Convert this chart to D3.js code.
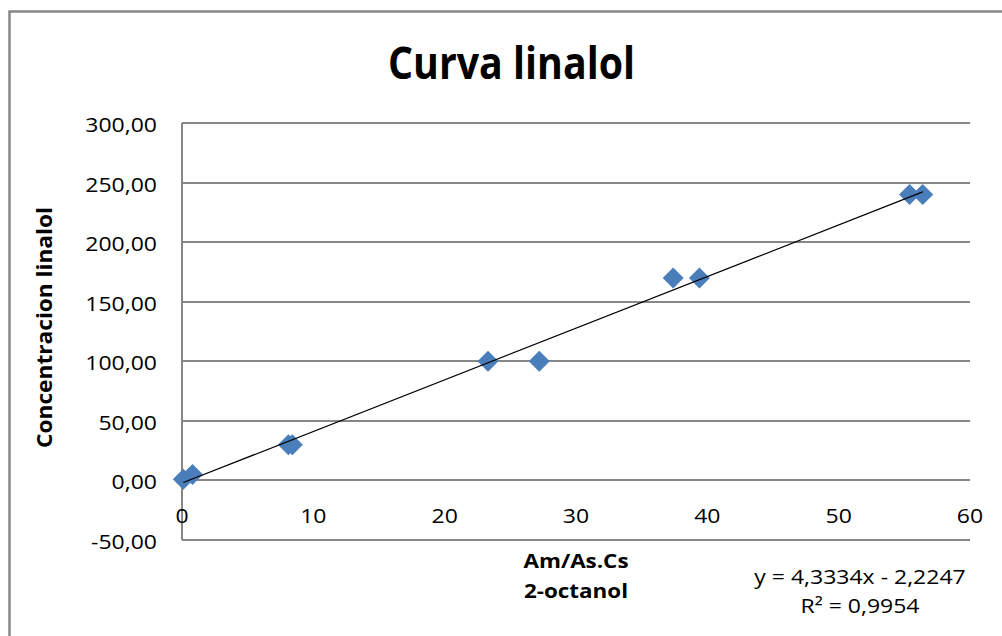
<!DOCTYPE html>
<html>
<head>
<meta charset="utf-8">
<script src="https://cdn.jsdelivr.net/npm/d3@7"></script>
<style>
  html, body { margin: 0; padding: 0; background: #ffffff; }
  svg { display: block; }
  text { font-family: "Open Sans", "Liberation Sans", sans-serif; fill: #000; }
</style>
</head>
<body>
<svg id="chart" width="1002" height="636"></svg>
<script>
// Calibration points: Am/As.Cs ratio vs linalool concentration
const ratioValues = [0.1, 0.8, 8.1, 8.4, 23.3, 27.2, 37.4, 39.4, 55.4, 56.4];
const concentrationValues = [1, 5, 30, 30, 100, 100, 170, 170, 240, 240];

// Linear fit reported on the chart
const fitSlope = 4.3334;
const fitIntercept = -2.2247;
const fitR2 = 0.9954;

// Axis ticks
const xTicks = [0, 10, 20, 30, 40, 50, 60];
const yTicks = [-50, 0, 50, 100, 150, 200, 250, 300];

const titleText = "Curva linalol";
const xTitleLines = ["Am/As.Cs", "2-octanol"];
const yTitleText = "Concentracion linalol";

const svg = d3.select("#chart");
const W = 1002, H = 636;

const plot = { left: 182, right: 970, top: 123, bottom: 540 };

const x = d3.scaleLinear().domain([0, 60]).range([plot.left, plot.right]);
const y = d3.scaleLinear().domain([-50, 300]).range([plot.bottom, plot.top]);

const esLocale = d3.formatLocale({ decimal: ",", thousands: ".", grouping: [3], currency: ["", ""], minus: "-" });
const fmt2 = esLocale.format(".2f");
const fmt4 = esLocale.format(".4f");

const gridColor = "#878787";

// Outer chart frame (runs past the right and bottom edges)
svg.append("rect")
  .attr("x", 9.5).attr("y", 11.5)
  .attr("width", W + 20).attr("height", H + 20)
  .attr("fill", "none")
  .attr("stroke", "#878787")
  .attr("stroke-width", 2.5);

// Helper: text drawn with a horizontal stretch factor
function stretchedText(parent, tx, ty, str, opts) {
  const g = parent.append("g")
    .attr("transform", `translate(${tx},${ty})${opts.rotate ? ` rotate(${opts.rotate})` : ""} scale(${opts.sx || 1},1)`);
  const t = g.append("text")
    .attr("x", 0).attr("y", 0)
    .attr("text-anchor", opts.anchor || "middle")
    .attr("font-size", opts.size)
    .attr("font-weight", opts.weight || "normal")
    .text(str);
  if (opts.length) {
    t.attr("textLength", opts.length).attr("lengthAdjust", "spacingAndGlyphs");
  }
  return t;
}

// Horizontal gridlines
svg.append("g")
  .selectAll("line")
  .data(yTicks)
  .join("line")
  .attr("x1", plot.left).attr("x2", plot.right)
  .attr("y1", d => Math.round(y(d))).attr("y2", d => Math.round(y(d)))
  .attr("stroke", gridColor)
  .attr("stroke-width", 2);

// Vertical axis line
svg.append("line")
  .attr("x1", plot.left).attr("x2", plot.left)
  .attr("y1", plot.top).attr("y2", plot.bottom)
  .attr("stroke", gridColor).attr("stroke-width", 2);

// Y tick labels
const yLab = svg.append("g");
yTicks.forEach(v => {
  stretchedText(yLab, plot.left - 25, Math.round(y(v)) + 8.5, fmt2(v), { size: 20, sx: 1.15, anchor: "end" });
});

// X tick labels
const xLab = svg.append("g");
xTicks.forEach(v => {
  stretchedText(xLab, x(v), 523, String(v), { size: 20, sx: 1.15, anchor: "middle" });
});

// Title
stretchedText(svg, (388 + 635) / 2, 79, titleText, { size: 45, weight: "bold", length: 247 });

// Axis titles
const xMid = (plot.left + plot.right) / 2;
stretchedText(svg, xMid, 568, xTitleLines[0], { size: 20, weight: "bold", sx: 1.12 });
stretchedText(svg, xMid, 598, xTitleLines[1], { size: 20, weight: "bold", sx: 1.12 });
stretchedText(svg, 52, (plot.top + plot.bottom) / 2 - 4, yTitleText, { size: 21, weight: "bold", sx: 1.08, rotate: -90 });

// Data markers (diamonds)
const half = 10.5;
const diamond = `M0,${-half}L${half},0L0,${half}L${-half},0Z`;
svg.append("g")
  .selectAll("path")
  .data(ratioValues.map((r, i) => [r, concentrationValues[i]]))
  .join("path")
  .attr("d", diamond)
  .attr("transform", d => `translate(${x(d[0])},${y(d[1])})`)
  .attr("fill", "#4a7ebb");

// Linear trendline across the data range
const xMin = d3.min(ratioValues), xMax = d3.max(ratioValues);
svg.append("line")
  .attr("x1", x(xMin)).attr("y1", y(fitSlope * xMin + fitIntercept))
  .attr("x2", x(xMax)).attr("y2", y(fitSlope * xMax + fitIntercept))
  .attr("stroke", "#000")
  .attr("stroke-width", 1.2);

// Trendline equation and R²
const eqX = 860;
stretchedText(svg, eqX, 584, `y = ${fmt4(fitSlope)}x - ${fmt4(Math.abs(fitIntercept))}`, { size: 20, sx: 1.15 });
stretchedText(svg, eqX, 613, `R² = ${fmt4(fitR2)}`, { size: 20, sx: 1.15 });
</script>
</body>
</html>
